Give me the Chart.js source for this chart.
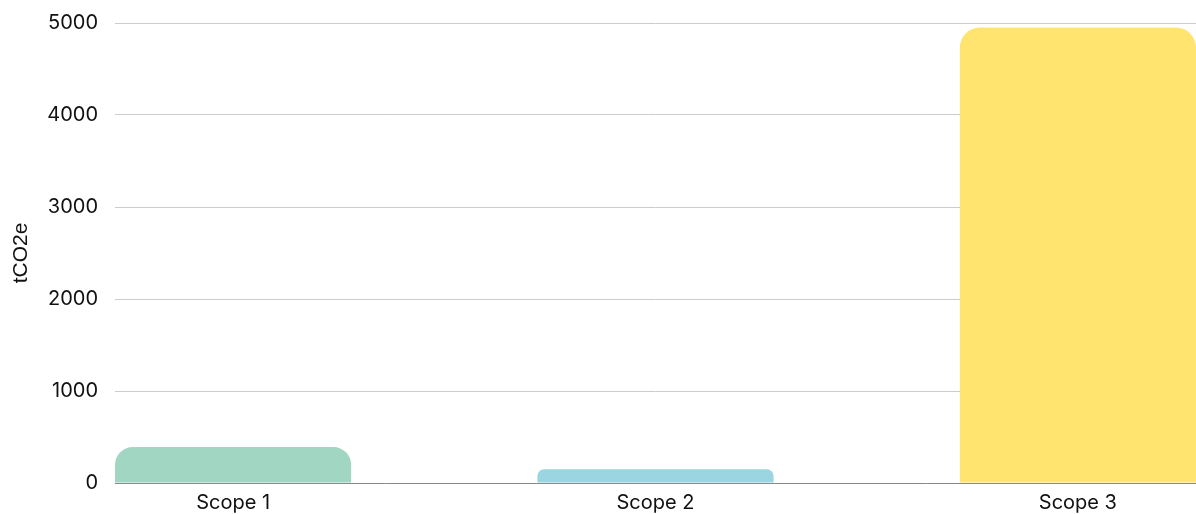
<!DOCTYPE html>
<html>
<head>
<meta charset="utf-8">
<script src="https://cdn.jsdelivr.net/npm/chart.js@4.4.1/dist/chart.umd.min.js"></script>
<style>
  html, body { margin: 0; padding: 0; background: #ffffff; }
  #wrap { width: 1196px; height: 514px; position: relative; }
</style>
</head>
<body>
<div id="wrap"><canvas id="c"></canvas></div>
<script>
const categories = ["Scope 1", "Scope 2", "Scope 3"];
const emissions = [390, 150, 4950];
const barColors = ["#a0d6c2", "#9bd5e1", "#ffe570"];
const yTicks = [0, 1000, 2000, 3000, 4000, 5000];
const yTitle = "tCO2e";

const tickFont = { family: "Inter, 'Open Sans', sans-serif", size: 20 };

new Chart(document.getElementById('c'), {
  type: 'bar',
  data: {
    datasets: [{
      data: emissions.map((v, i) => ({ x: i, y: v })),
      backgroundColor: barColors,
      borderRadius: 20,
      borderSkipped: 'bottom',
      categoryPercentage: 1,
      barPercentage: 0.559
    }]
  },
  options: {
    responsive: true,
    maintainAspectRatio: false,
    animation: false,
    layout: { padding: { top: 23, right: 0, left: 0, bottom: 0 } },
    plugins: { legend: { display: false }, tooltip: { enabled: false } },
    scales: {
      x: {
        type: 'linear',
        offset: false,
        min: -0.2796,
        max: 2.2796,
        grid: { display: false, drawTicks: false },
        border: { display: true, color: '#888888', width: 1 },
        afterBuildTicks: (scale) => { scale.ticks = categories.map((_, i) => ({ value: i })); },
        afterFit: (scale) => { scale.height = 31; },
        ticks: {
          padding: 8,
          color: '#111111',
          font: tickFont,
          maxRotation: 0,
          callback: (v) => categories[v] ?? ''
        }
      },
      y: {
        min: 0,
        max: 5000,
        afterBuildTicks: (scale) => { scale.ticks = yTicks.map(v => ({ value: v })); },
        afterFit: (scale) => { scale.width = 115; scale.paddingTop = 0; scale.paddingBottom = 0; },
        grid: { color: '#cccccc', drawTicks: false },
        border: { display: false },
        ticks: { padding: 17, color: '#111111', font: tickFont, callback: (v) => String(v) },
        title: {
          display: true,
          text: yTitle,
          color: '#111111',
          font: { family: "'Liberation Sans', Arial, sans-serif", size: 21 },
          padding: { top: 9, bottom: 0 }
        }
      }
    }
  }
});
</script>
</body>
</html>
